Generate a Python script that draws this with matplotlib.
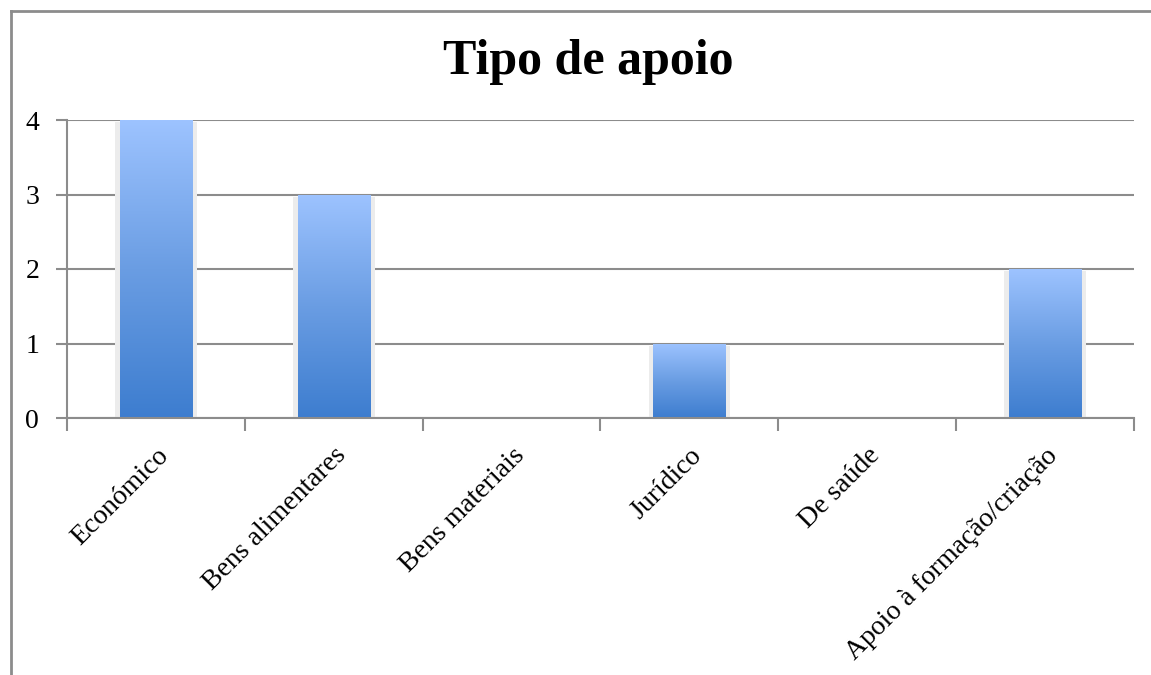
import numpy as np
import matplotlib.pyplot as plt
from matplotlib.colors import LinearSegmentedColormap
from matplotlib.lines import Line2D

categories = ["Económico", "Bens alimentares", "Bens materiais",
              "Jurídico", "De saúde", "Apoio à formação/criação"]
counts = [4, 3, 0, 1, 0, 2]
y_ticks = [0, 1, 2, 3, 4]

W, H, DPI = 1151, 675, 100
fig = plt.figure(figsize=(W / DPI, H / DPI), dpi=DPI)
ax = fig.add_axes([67 / W, 1 - 418 / H, (1134 - 67) / W, (418 - 120) / H])

grey = "#8c8c8c"
blues = LinearSegmentedColormap.from_list("blues", ["#3d7dcf", "#6a9de3", "#9dc3ff"])
grad = np.linspace(0, 1, 256).reshape(-1, 1)

x = np.arange(len(categories))
bw = 0.405

# soft shadow behind the bars
ax.bar(x, [c and c - 0.03 for c in counts], width=bw + 0.055, color="#ececec",
       zorder=2, linewidth=0)
ax.bar(x + 0.01, [c and 0.03 for c in counts], bottom=[-0.02] * len(counts),
       width=bw, color="#c4c4c4", zorder=2, linewidth=0)

bars = ax.bar(x, counts, width=bw, color="none", zorder=3, linewidth=0)
for b in bars:
    h = b.get_height()
    if h <= 0:
        continue
    x0 = b.get_x()
    im = ax.imshow(grad, cmap=blues, origin="lower", aspect="auto",
                   extent=[x0, x0 + b.get_width(), 0, h], zorder=3)
    im.set_clip_path(b)

ax.set_xlim(-0.5, len(categories) - 0.5)
ax.set_ylim(0, 4)

ax.set_yticks(y_ticks)
ax.yaxis.grid(True, color=grey, linewidth=1.5)
ax.set_axisbelow(True)
ax.tick_params(axis="y", length=8, width=1.5, color=grey, pad=12)

# x ticks sit on the category boundaries
ax.set_xticks(np.arange(len(categories) + 1) - 0.5)
ax.set_xticklabels([])
ax.tick_params(axis="x", length=9, width=1.5, color=grey)
ax.set_xticks(x, minor=True)
ax.set_xticklabels(categories, minor=True, rotation=45, ha="right",
                   rotation_mode="anchor")
ax.tick_params(axis="x", which="minor", length=0, pad=18)

for lbl in ax.get_yticklabels() + ax.get_xticklabels(minor=True):
    lbl.set_fontfamily("Liberation Serif")
    lbl.set_fontsize(20)

for s in ["top", "right"]:
    ax.spines[s].set_visible(False)
for s in ["left", "bottom"]:
    ax.spines[s].set_color(grey)
    ax.spines[s].set_linewidth(1.5)
ax.spines["bottom"].set_zorder(4)

fig.text(588 / W, 1 - 62 / H, "Tipo de apoio", ha="center", va="center",
         fontsize=36, fontweight="bold", family="Liberation Serif")

# outer chart frame
fig.add_artist(Line2D([11 / W, 11 / W], [0, 1 - 11 / H], color=grey, lw=2,
                      transform=fig.transFigure))
fig.add_artist(Line2D([11 / W, 1], [1 - 11 / H, 1 - 11 / H], color=grey, lw=2,
                      transform=fig.transFigure))

fig.savefig("out.png", dpi=DPI)
